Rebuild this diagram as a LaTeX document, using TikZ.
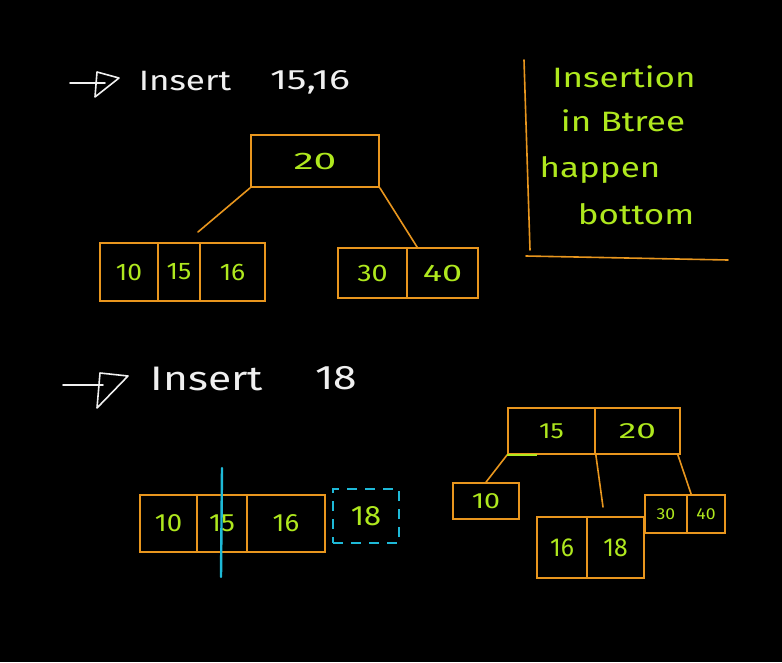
\documentclass[tikz,border=0pt]{standalone}
\usepackage{fontspec}
\setmainfont{Fira Sans}
\usepackage{graphicx}
\definecolor{bor}{RGB}{232,150,30}
\definecolor{grn}{RGB}{175,232,30}
\definecolor{cyn}{RGB}{30,185,215}
\definecolor{wht}{RGB}{240,240,240}
\newcommand\handw[2][1.25]{\scalebox{#1}[1]{#2}}
\tikzset{
  cell/.style={draw=bor, line width=1.7pt, inner sep=0pt, text=grn},
  link/.style={draw=bor, line width=1.6pt, line cap=round},
  pen/.style={draw=wht, line width=1.6pt, line cap=round, line join=round},
  fsz/.style={font=\fontsize{#1}{#1}\selectfont},
  wtext/.style={text=wht, inner sep=0pt},
  gtext/.style={text=grn, inner sep=0pt},
}
\begin{document}
\begin{tikzpicture}[x=1pt,y=-1pt]
\fill[black] (0,0) rectangle (782,662);
\useasboundingbox (0,0) rectangle (782,662);

% ---------- header 1 ----------
\coordinate (h1a) at (70,83);
\coordinate (h1b) at (105,83);
\draw[pen] (h1a) -- (h1b);
\draw[pen] (97,72) -- (119,78) -- (95,97) -- cycle;
\node[wtext, fsz=28] (ins1) at (185,81) {\handw{Insert}};
\node[wtext, fsz=28] (num1) at (310,82) {\handw[1.4]{15,16}};

% ---------- top tree ----------
\node[cell, fsz=24, minimum width=128, minimum height=52] (t20) at (315,161) {\handw[1.7]{20}};
\node[cell, fsz=24, minimum width=58, minimum height=58] (t10) at (129,272) {\handw[1.1]{10}};
\node[cell, fsz=24, minimum width=42, minimum height=58] (t15) at (179,272) {\handw[1.1]{15}};
\node[cell, fsz=24, minimum width=65, minimum height=58] (t16) at (232.5,272) {\handw[1.1]{16}};
\node[cell, fsz=24, minimum width=69, minimum height=50] (t30) at (372.5,273) {\handw[1.2]{30}};
\node[cell, fsz=24, minimum width=71, minimum height=50] (t40) at (442.5,273) {\handw[1.5]{40}};
\coordinate (tl) at (198,232);
\draw[link] (t20.south west) -- (tl);
\draw[link] (t20.south east) -- ([xshift=11pt]t40.north west);

% ---------- note ----------
\coordinate (n1) at (524,60);
\coordinate (n2) at (530,250);
\coordinate (n3) at (526,256);
\coordinate (n4) at (728,260);
\draw[link] (n1) -- (n2);
\draw[link] (n3) -- (n4);
\node[gtext, fsz=28] (nt1) at (624,77) {\handw{Insertion}};
\node[gtext, fsz=28] (nt2) at (623,121) {\handw{in Btree}};
\node[gtext, fsz=28] (nt3) at (600,170) {\handw{happen}};
\node[gtext, fsz=28] (nt4) at (636,214) {\handw{bottom}};

% ---------- header 2 ----------
\coordinate (h2a) at (63,385);
\coordinate (h2b) at (103,385);
\draw[pen] (h2a) -- (h2b);
\draw[pen] (100,373) -- (128,376) -- (97,408) -- cycle;
\node[wtext, fsz=34] (ins2) at (207,379) {\handw{Insert}};
\node[wtext, fsz=34] (num2) at (336,378) {\handw{18}};

% ---------- bottom-left array ----------
\node[cell, fsz=25, minimum width=57, minimum height=57] (b10) at (168.5,523.5) {\handw[1.1]{10}};
\node[cell, fsz=25, minimum width=50, minimum height=57] (b15) at (222,523.5) {\handw[1.1]{15}};
\node[cell, fsz=25, minimum width=78, minimum height=57] (b16) at (286,523.5) {\handw[1.1]{16}};
\coordinate (c1) at (222,468);
\coordinate (c2) at (221,577);
\draw[draw=cyn, line width=2.4pt, line cap=round] (c1) -- (c2);
\node[draw=cyn, line width=1.6pt, dash pattern=on 10pt off 8pt, text=grn, fsz=28,
      minimum width=66, minimum height=54, inner sep=0pt] (b18) at (366,516) {\handw[1.1]{18}};

% ---------- bottom-right tree ----------
\node[cell, fsz=22, minimum width=87, minimum height=46] (r15) at (551.5,431) {\handw[1.2]{15}};
\node[cell, fsz=22, minimum width=85, minimum height=46] (r20) at (637.5,431) {\handw[1.6]{20}};
\node[cell, fsz=22, minimum width=66, minimum height=36] (l10) at (486,501) {\handw[1.3]{10}};
\node[cell, fsz=26, minimum width=50, minimum height=61] (l16) at (562,547.5) {\handw[0.95]{16}};
\node[cell, fsz=26, minimum width=57, minimum height=61] (l18) at (615.5,547.5) {\handw[0.95]{18}};
\node[cell, fsz=16, minimum width=42, minimum height=38] (l30) at (666,514) {\handw[1.1]{30}};
\node[cell, fsz=16, minimum width=38, minimum height=38] (l40) at (706,514) {\handw[1.1]{40}};
\draw[link] (r15.south west) -- (l10.north);
\draw[draw=grn, line width=1.6pt] (r15.south west) -- ([xshift=30pt]r15.south west);
\coordinate (rm) at (603,507);
\draw[link] (r15.south east) -- (rm);
\draw[link] ([xshift=-3pt]r20.south east) -- ([xshift=5pt]l40.north west);
\end{tikzpicture}
\end{document}
